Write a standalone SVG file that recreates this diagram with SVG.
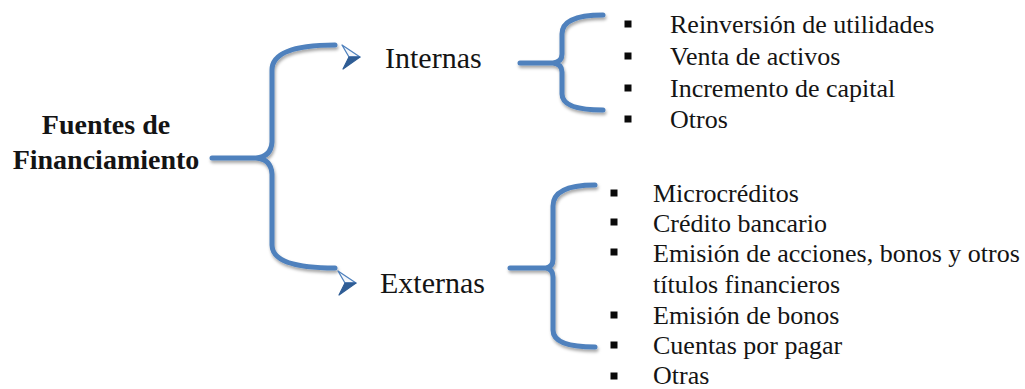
<svg xmlns="http://www.w3.org/2000/svg" width="1025" height="389" viewBox="0 0 1025 389">
<defs>
<style>
text{font-family:"Liberation Serif","Tinos","DejaVu Serif","Times New Roman",serif;fill:#141414}
.root{font-size:28px;font-weight:bold;text-anchor:middle}
.mid{font-size:30px}
.item{font-size:26px}
.brace{fill:none;stroke:#4F81BD;stroke-width:5;stroke-linecap:round;stroke-linejoin:round}
.bul{fill:#0a0a0a}
.arL{fill:#f4f7fb;stroke:#4F81BD;stroke-width:1.3;stroke-linejoin:round}
.arD{fill:#2F5D95;stroke:#2F5D95;stroke-width:1.2;stroke-linejoin:round}
</style>
<filter id="sh" x="-20%" y="-20%" width="140%" height="140%">
<feDropShadow dx="1" dy="2.5" stdDeviation="1.5" flood-color="#000" flood-opacity="0.35"/>
</filter>
<g id="arrow">
<polygon class="arL" points="0,-12 18,0 7,0"/>
<polygon class="arD" points="7,0 18,0 1,12"/>
</g>
<rect id="sq" class="bul" x="-3.5" y="-3.5" width="7" height="7"/>
</defs>

<g id="connectors" filter="url(#sh)">
<path class="brace" d="M212,158 L256,158 Q271,157 272,142 L272,70 Q272,45 335,45 M256,158 Q271,159 272,174 L272,245 Q272,268 335,268"/>
<path class="brace" d="M520,63 L553,63 Q562,62 562,54 L562,34 Q562,15 603,15 M553,63 Q562,64 562,72 L562,94 Q562,110 603,110"/>
<path class="brace" d="M510,268 L546,268 Q553,267 553,259 L553,206 Q553,185 595,185 M546,268 Q553,269 553,277 L553,330 Q553,347 595,347"/>
</g>

<g id="node-root">
<text class="root" x="106" y="134" font-family="Liberation Serif, serif">Fuentes de</text>
<text class="root" x="106" y="169" font-family="Liberation Serif, serif">Financiamiento</text>
</g>

<g id="node-internas">
<use href="#arrow" x="342" y="57"/>
<text class="mid" x="385" y="68" font-family="Liberation Serif, serif">Internas</text>
</g>

<g id="node-externas">
<use href="#arrow" x="338" y="283"/>
<text class="mid" x="380" y="293" font-family="Liberation Serif, serif">Externas</text>
</g>

<g id="list-internas" font-family="Liberation Serif, serif">
<use href="#sq" x="628" y="24"/>
<use href="#sq" x="628" y="56"/>
<use href="#sq" x="628" y="88"/>
<use href="#sq" x="628" y="119"/>
<text class="item" x="670" y="33">Reinversión de utilidades</text>
<text class="item" x="670" y="65">Venta de activos</text>
<text class="item" x="670" y="97">Incremento de capital</text>
<text class="item" x="670" y="128">Otros</text>
</g>

<g id="list-externas" font-family="Liberation Serif, serif">
<use href="#sq" x="614" y="193"/>
<use href="#sq" x="614" y="222"/>
<use href="#sq" x="614" y="252"/>
<use href="#sq" x="614" y="315"/>
<use href="#sq" x="614" y="345"/>
<use href="#sq" x="614" y="376"/>
<text class="item" x="653" y="202">Microcréditos</text>
<text class="item" x="653" y="232">Crédito bancario</text>
<text class="item" x="653" y="262">Emisión de acciones, bonos y otros</text>
<text class="item" x="653" y="293">títulos financieros</text>
<text class="item" x="653" y="324">Emisión de bonos</text>
<text class="item" x="653" y="354">Cuentas por pagar</text>
<text class="item" x="653" y="384">Otras</text>
</g>
</svg>
